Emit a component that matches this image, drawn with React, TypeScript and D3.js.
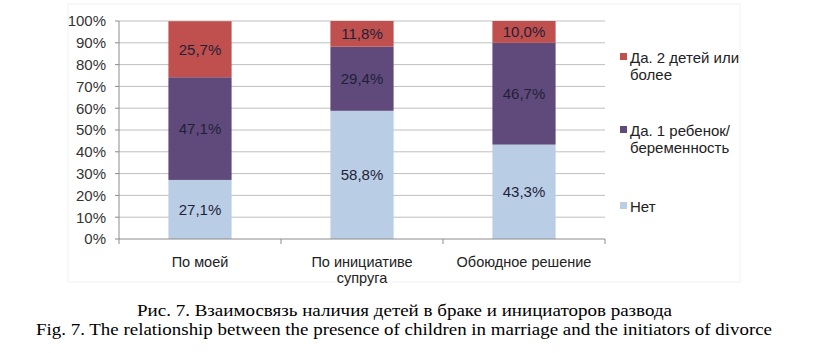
import * as d3 from "d3";

const categories = ["По моей", "По инициативе\nсупруга", "Обоюдное решение"];
const seriesNames = ["Нет", "Да, 1 ребенок/беременность", "Да, 2 детей или более"];
const noValues = [27.1, 58.8, 43.3];
const oneValues = [47.1, 29.4, 46.7];
const twoValues = [25.7, 11.8, 10.0];
const yTicks = [0, 10, 20, 30, 40, 50, 60, 70, 80, 90, 100];
const legendLines = [["Да. 2 детей или", "более"], ["Да. 1 ребенок/", "беременность"], ["Нет"]];
const colors = ["#b9cde5", "#604a7b", "#c0504d"];
const legendColors = ["#c0504d", "#604a7b", "#b9cde5"];

const W = 816;
const H = 353;
const margin = { left: 119, right: 211, top: 21, bottom: 114 };
const sans = "'Liberation Sans', Arial, sans-serif";
const serif = "'Liberation Serif', 'Times New Roman', serif";

export default function App(): JSX.Element {
  const x = d3
    .scaleBand<string>()
    .domain(categories)
    .range([margin.left, W - margin.right])
    .paddingInner(0.61)
    .paddingOuter(0.305);
  const y = d3
    .scaleLinear()
    .domain([0, 100])
    .range([H - margin.bottom, margin.top]);

  const table = categories.map((c, i) => ({ cat: c, v0: noValues[i], v1: oneValues[i], v2: twoValues[i] }));
  const stack = d3.stack<(typeof table)[number]>().keys(["v0", "v1", "v2"]);
  const layers = stack(table);
  const step = x.step();
  const x0 = margin.left;
  const x1 = W - margin.right;

  return (
    <svg width={W} height={H} style={{ position: "absolute", left: 0, top: 0, background: "#fff" }}>
      <rect x={68} y={4} width={672} height={278} fill="none" stroke="#f2f2f2" />
      {yTicks.map((t) => (
        <g key={t}>
          {t > 0 && <line x1={x0} x2={x1} y1={y(t)} y2={y(t)} stroke="#bfbfbf" strokeWidth={1} />}
          <line x1={x0 - 4} x2={x0} y1={y(t)} y2={y(t)} stroke="#8c8c8c" />
          <text x={106} y={y(t)} dy="0.36em" textAnchor="end" fontFamily={sans} fontSize={15} fill="#333">
            {t}%
          </text>
        </g>
      ))}
      {layers.map((layer, li) => (
        <g key={li} fill={colors[li]}>
          {layer.map((d, i) => (
            <rect key={i} x={x(categories[i])} width={x.bandwidth()} y={y(d[1])} height={y(d[0]) - y(d[1])} />
          ))}
        </g>
      ))}
      {layers.map((layer, li) => (
        <g key={"l" + li}>
          {layer.map((d, i) => (
            <text
              key={i}
              x={(x(categories[i]) ?? 0) + x.bandwidth() / 2}
              y={y((d[0] + d[1]) / 2)}
              dy="0.36em"
              textAnchor="middle"
              fontFamily={sans}
              fontSize={15}
              fill="#1f1f3a"
            >
              {(d[1] - d[0]).toFixed(1).replace(".", ",")}%
            </text>
          ))}
        </g>
      ))}
      <line x1={x0} x2={x0} y1={y(100)} y2={y(0)} stroke="#8c8c8c" />
      <line x1={x0} x2={x1} y1={y(0)} y2={y(0)} stroke="#8c8c8c" />
      {d3.range(categories.length + 1).map((k) => (
        <line key={k} x1={x0 + k * step} x2={x0 + k * step} y1={y(0)} y2={y(0) + 5} stroke="#8c8c8c" />
      ))}
      {categories.map((c) => (
        <text key={c} x={(x(c) ?? 0) + x.bandwidth() / 2} y={267} textAnchor="middle" fontFamily={sans} fontSize={14.5} fill="#222">
          {c.split("\n").map((line, j) => (
            <tspan key={j} x={(x(c) ?? 0) + x.bandwidth() / 2} dy={j === 0 ? 0 : 16}>
              {line}
            </tspan>
          ))}
        </text>
      ))}
      {legendLines.map((lines, i) => {
        const baseY = [63, 136, 212][i];
        return (
          <g key={i}>
            <rect x={620} y={baseY - 10} width={7} height={7} fill={legendColors[i]} />
            <text x={630} y={baseY} fontFamily={sans} fontSize={15} fill="#222">
              {lines.map((l, j) => (
                <tspan key={j} x={630} dy={j === 0 ? 0 : 17}>
                  {l}
                </tspan>
              ))}
            </text>
          </g>
        );
      })}
      <text x={404.5} y={316} textAnchor="middle" fontFamily={serif} fontSize={17} textLength={535} lengthAdjust="spacingAndGlyphs" fill="#000">
        Рис. 7. Взаимосвязь наличия детей в браке и инициаторов развода
      </text>
      <text x={404} y={335} textAnchor="middle" fontFamily={serif} fontSize={17} textLength={736} lengthAdjust="spacingAndGlyphs" fill="#000">
        Fig. 7. The relationship between the presence of children in marriage and the initiators of divorce
      </text>
      <title>{seriesNames.join(", ")}</title>
    </svg>
  );
}
